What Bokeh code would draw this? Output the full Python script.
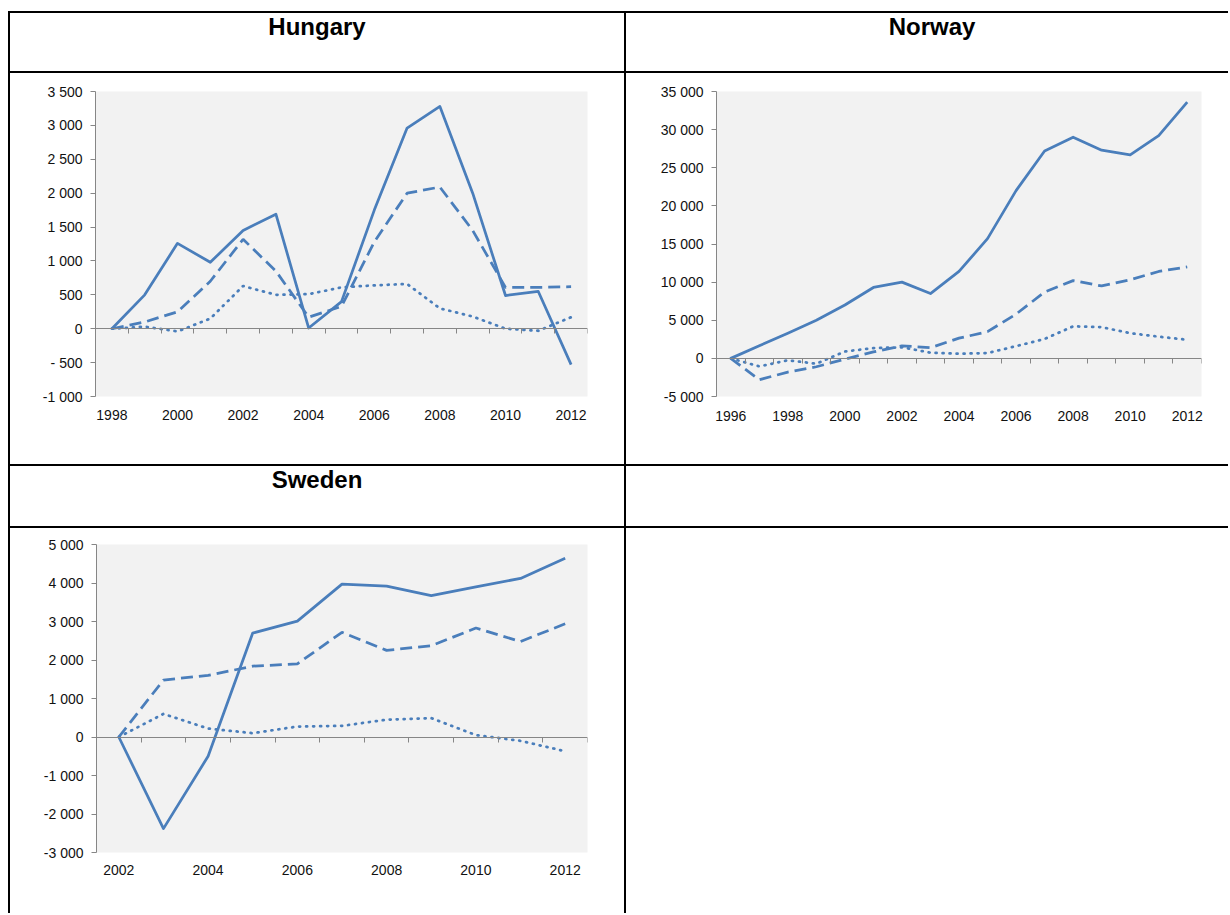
from bokeh.plotting import figure
from bokeh.models import Range1d, LinearAxis, FixedTicker, Div, Spacer
from bokeh.layouts import row, column
from bokeh.embed import file_html
from bokeh.resources import INLINE

# ---------------- data ----------------
hu_years = list(range(1998, 2013))
hu_solid = [0, 500, 1260, 980, 1450, 1690, 10, 400, 1750, 2960, 3280, 2000, 490, 550, -530]
hu_dashed = [0, 100, 250, 700, 1320, 850, 170, 330, 1280, 2000, 2090, 1450, 610, 610, 620]
hu_dotted = [0, 30, -40, 150, 630, 500, 510, 610, 640, 660, 300, 180, 0, -30, 170]
hu_labels = [1998, 2000, 2002, 2004, 2006, 2008, 2010, 2012]

no_years = list(range(1996, 2013))
no_solid = [0, 1650, 3300, 5000, 7000, 9300, 10000, 8500, 11400, 15700, 22000, 27200, 29000, 27300, 26700, 29200, 33600]
no_dashed = [0, -2800, -1800, -1100, -100, 850, 1650, 1400, 2650, 3500, 5800, 8700, 10200, 9500, 10300, 11400, 12000]
no_dotted = [0, -1050, -250, -700, 900, 1350, 1450, 750, 600, 700, 1600, 2550, 4200, 4100, 3300, 2850, 2450]
no_labels = [1996, 1998, 2000, 2002, 2004, 2006, 2008, 2010, 2012]

se_years = list(range(2002, 2013))
se_solid = [0, -2380, -500, 2700, 3010, 3970, 3920, 3670, 3900, 4120, 4640]
se_dashed = [0, 1480, 1600, 1840, 1900, 2720, 2250, 2370, 2830, 2480, 2940]
se_dotted = [0, 600, 220, 100, 270, 290, 450, 490, 50, -100, -370]
se_labels = [2002, 2004, 2006, 2008, 2010, 2012]

BLUE = "#4A7EBB"
GRAY = "#868686"
FONT = "Liberation Sans"


def ylab(v):
    s = f"{abs(v):,}".replace(",", " ")
    if v < 0:
        return ("- " + s) if abs(v) < 1000 else ("-" + s)
    return s


def make_chart(years, solid, dashed, dotted, labels, ymin, ymax, ystep,
               w, h, bl, br, bt, bb, xstand):
    p = figure(width=w, height=h,
               x_range=Range1d(years[0] - 0.5, years[-1] + 0.5),
               y_range=Range1d(ymin, ymax),
               x_axis_type=None, output_backend="svg", toolbar_location=None,
               min_border_left=bl, min_border_right=br,
               min_border_top=bt, min_border_bottom=bb, margin=0)
    p.background_fill_color = "#F2F2F2"
    p.border_fill_color = "white"
    p.outline_line_color = None
    p.ygrid.grid_line_color = None

    ticks = list(range(ymin, ymax + 1, ystep))
    ya = p.yaxis[0]
    ya.ticker = FixedTicker(ticks=ticks)
    ya.major_label_overrides = {t: ylab(t) for t in ticks}
    ya.axis_line_color = GRAY
    ya.major_tick_line_color = GRAY
    ya.minor_tick_line_color = None
    ya.major_tick_out = 5
    ya.major_tick_in = 0
    ya.major_label_standoff = 8
    ya.major_label_text_font = FONT
    ya.major_label_text_font_size = "14px"
    ya.major_label_text_color = "#111111"

    bounds = [y - 0.5 for y in years] + [years[-1] + 0.5]
    zero_axis = LinearAxis(fixed_location=0, ticker=FixedTicker(ticks=bounds),
                           axis_line_color=GRAY, major_tick_line_color=GRAY,
                           minor_tick_line_color=None, major_tick_out=5,
                           major_tick_in=0,
                           major_label_overrides={b: "" for b in bounds},
                           major_label_text_color=None)
    p.add_layout(zero_axis, "below")

    lab_axis = LinearAxis(ticker=FixedTicker(ticks=labels),
                          axis_line_color=None, major_tick_line_color=None,
                          minor_tick_line_color=None, major_tick_out=0,
                          major_tick_in=0, major_label_standoff=xstand,
                          major_label_text_font=FONT,
                          major_label_text_font_size="14px",
                          major_label_text_color="#111111")
    p.add_layout(lab_axis, "below")

    p.line(years, dotted, line_color=BLUE, line_width=2.75, line_dash="1 6",
           line_cap="round")
    p.line(years, dashed, line_color=BLUE, line_width=2.75, line_dash="12 6")
    p.line(years, solid, line_color=BLUE, line_width=2.75, line_join="round")
    return p


def header(text, w, h, left=False, right=False, pad_left=0, pad_top=2):
    style = (f"box-sizing:border-box;width:{w}px;height:{h}px;"
             "border-top:2px solid #000;border-bottom:2px solid #000;"
             + ("border-left:2px solid #000;" if left else "")
             + ("border-right:2px solid #000;" if right else "")
             + f"font-family:'{FONT}',Arial,sans-serif;font-weight:bold;"
             "font-size:24px;line-height:24px;text-align:center;color:#000;"
             f"padding-top:{pad_top}px;padding-left:{pad_left}px;margin:0;")
    return Div(text=f'<div style="{style}">{text}</div>', width=w, height=h,
               margin=0)


def vline(h):
    return Div(text=f'<div style="width:2px;height:{h}px;background:#000;margin:0"></div>',
               width=2, height=h, margin=0)


def gap(w, h):
    return Spacer(width=w, height=h, margin=0)


hu = make_chart(hu_years, hu_solid, hu_dashed, hu_dotted, hu_labels,
                -1000, 3500, 500, 614, 391, 85, 37, 18, 66, 13)
no = make_chart(no_years, no_solid, no_dashed, no_dotted, no_labels,
                -5000, 35000, 5000, 602, 391, 90, 27, 17, 68, 14)
se = make_chart(se_years, se_solid, se_dashed, se_dotted, se_labels,
                -3000, 5000, 1000, 614, 385, 86, 37, 16, 61, 12)

layout = column(
    gap(1228, 11),
    row(gap(8, 62), header("Hungary", 618, 62, left=True, right=True),
        header("Norway", 602, 62, pad_left=10), spacing=0, margin=0),
    row(gap(8, 391), vline(391), hu, vline(391), no, spacing=0, margin=0),
    row(gap(8, 64), header("Sweden", 618, 64, left=True, right=True),
        header("", 602, 64), spacing=0, margin=0),
    row(gap(8, 385), vline(385), se, vline(385), gap(602, 385),
        spacing=0, margin=0),
    spacing=0, margin=0,
)

open("out.html", "w").write(file_html(layout, INLINE))
